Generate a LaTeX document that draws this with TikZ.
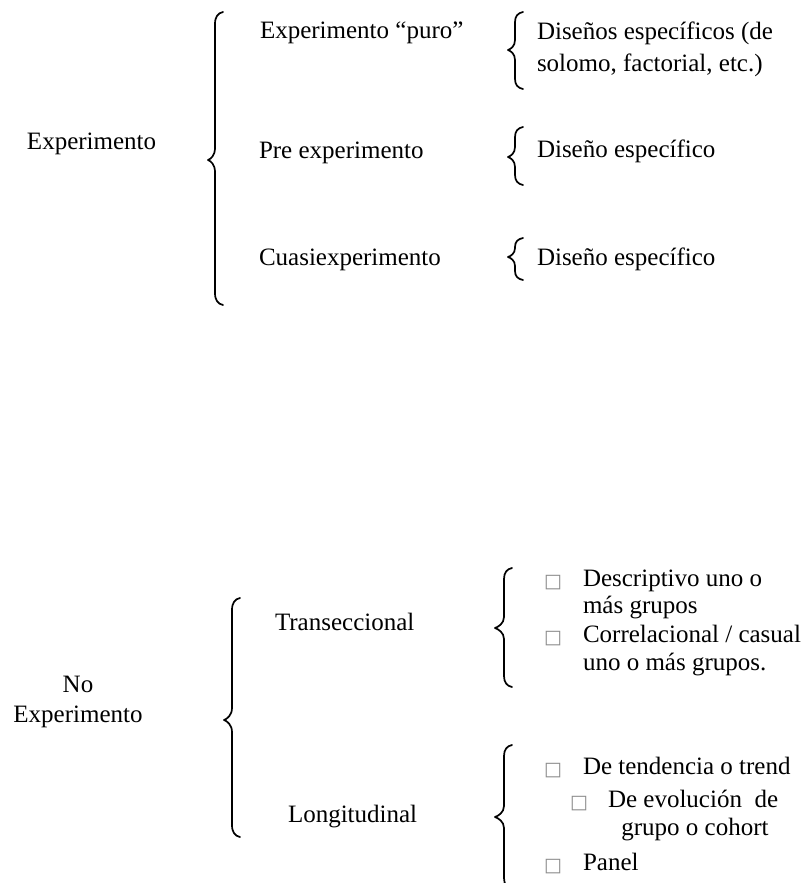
\documentclass[tikz,border=0pt]{standalone}
\usepackage{fontspec}
\setmainfont{Liberation Serif}
\newfontfamily\symfont{DejaVu Sans}
\begin{document}
\begin{tikzpicture}[x=1pt,y=-1pt,
  txt/.style={inner sep=0pt,outer sep=0pt,font=\fontsize{25}{30}\selectfont,text=black},
  lbl/.style={txt,anchor=base west},
  ctr/.style={txt,anchor=base},
  chk/.style={inner sep=0pt,outer sep=0pt,anchor=base west,font=\symfont\fontsize{19}{20}\selectfont,text=black!45},
  bracestyle/.style={draw=black,line width=1.7pt,line cap=round,line join=round}]
\useasboundingbox (0,0) rectangle (809,883);
\clip (0,0) rectangle (809,883);
\fill[white] (0,0) rectangle (809,883);
% brace macro: xline, xtip, xend, top, mid, bottom, curl
\newcommand\wordbrace[7]{%
  \draw[bracestyle] (#3,#4) .. controls (#1+3,#4+1) and (#1,#4+#7*0.4) .. (#1,#4+#7)
    -- (#1,#5-#7) .. controls (#1,#5-#7*0.4) and (#2+3,#5-1) .. (#2,#5)
    .. controls (#2+3,#5+1) and (#1,#5+#7*0.4) .. (#1,#5+#7)
    -- (#1,#6-#7) .. controls (#1,#6-#7*0.4) and (#1+3,#6-1) .. (#3,#6);}
% ---------- top part ----------
\node[lbl] (exp) at (27,149) {Experimento};
\wordbrace{215}{208}{223}{12}{160}{305}{12}
\node[lbl] (puro) at (260,39) {Experimento “puro”};
\node[lbl] (pre) at (259,158) {Pre experimento};
\node[lbl] (cuasi) at (259,265) {Cuasiexperimento};
\wordbrace{515}{508}{523}{12}{50}{89}{10}
\node[lbl] (disa) at (537,40) {Diseños específicos (de};
\node[lbl] (disb) at (537,71) {solomo, factorial, etc.)};
\wordbrace{515}{508}{523}{127}{157}{185}{10}
\node[lbl] (dis2) at (537,157) {Diseño específico};
\wordbrace{515}{508}{523}{238}{257}{280}{9}
\node[lbl] (dis3) at (537,265) {Diseño específico};
% ---------- bottom part ----------
\node[ctr] (no) at (78,692) {No};
\node[ctr] (noexp) at (78,722) {Experimento};
\wordbrace{232}{224}{240}{598}{720}{837}{12}
\node[lbl] (trans) at (275,630) {Transeccional};
\node[lbl] (longi) at (288,822) {Longitudinal};
\wordbrace{504}{495}{512}{568}{628}{687}{11}
\node[chk] (c1) at (544,587) {□};
\node[lbl] (d1a) at (583,586) {Descriptivo uno o};
\node[lbl] (d1b) at (583,613) {más grupos};
\node[chk] (c2) at (544,643) {□};
\node[lbl] (d2a) at (583,642) {Correlacional / casual};
\node[lbl] (d2b) at (583,670) {uno o más grupos.};
\wordbrace{504}{495}{512}{745}{817}{889}{11}
\node[chk] (c3) at (544,775) {□};
\node[lbl] (l1) at (583,774) {De tendencia o trend};
\node[chk] (c4) at (570,808) {□};
\node[lbl] (l2a) at (608,807) {De evolución\ \ de};
\node[ctr] (l2b) at (695,835) {grupo o cohort};
\node[chk] (c5) at (544,871) {□};
\node[lbl] (l3) at (583,870) {Panel};
\end{tikzpicture}
\end{document}
